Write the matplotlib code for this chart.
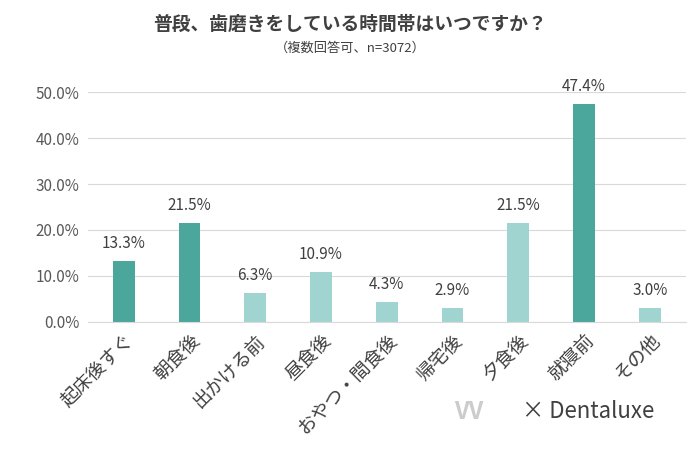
import matplotlib
matplotlib.use("Agg")
import matplotlib.pyplot as plt

plt.rcParams['font.family'] = ['Noto Sans CJK JP', 'DejaVu Sans']

categories = ['起床後すぐ', '朝食後', '出かける前', '昼食後', 'おやつ・間食後', '帰宅後', '夕食後', '就寝前', 'その他']
values = [13.3, 21.5, 6.3, 10.9, 4.3, 2.9, 21.5, 47.4, 3.0]
highlight = [True, True, False, False, False, False, False, True, False]
yticks = [0, 10, 20, 30, 40, 50]

dark = '#4ba69c'
light = '#a0d4d0'
colors = [dark if h else light for h in highlight]

fig = plt.figure(figsize=(7, 4.5), dpi=100)
ax = fig.add_axes([0.125, 0.285, 0.855, 0.51])
x = range(len(categories))
ax.bar(x, values, width=0.33, color=colors)
for i, v in zip(x, values):
    ax.text(i, v + 2.0, f'{v:.1f}%', ha='center', va='bottom', fontsize=11, color='#404040')
ax.set_ylim(0, 50)
ax.set_yticks(yticks)
ax.set_yticklabels([f'{t:.1f}%' for t in yticks], fontsize=11, color='#595959')
ax.set_xlim(-0.55, len(categories) - 0.45)
ax.set_xticks(list(x))
ax.set_xticklabels(categories, rotation=45, ha='right', rotation_mode='anchor', fontsize=13.5, color='#404040')
ax.tick_params(length=0, pad=6)
ax.grid(axis='y', color='#d9d9d9', lw=0.8)
ax.set_axisbelow(True)
for s in ['top', 'right', 'left']:
    ax.spines[s].set_visible(False)
ax.spines['bottom'].set_color('#d9d9d9')

fig.text(0.5, 0.945, '普段、歯磨きをしている時間帯はいつですか？', ha='center', va='center', fontsize=13.5, fontweight='bold', color='#404040')
fig.text(0.5, 0.893, '（複数回答可、n=3072）', ha='center', va='center', fontsize=9.5, color='#404040')
fig.text(0.745, 0.085, '× Dentaluxe', ha='left', va='center', fontsize=16, color='#404040')
fig.text(0.67, 0.085, 'VV', ha='center', va='center', fontsize=17, color='#cccccc', fontweight='bold')
fig.savefig('out.png', dpi=100)
